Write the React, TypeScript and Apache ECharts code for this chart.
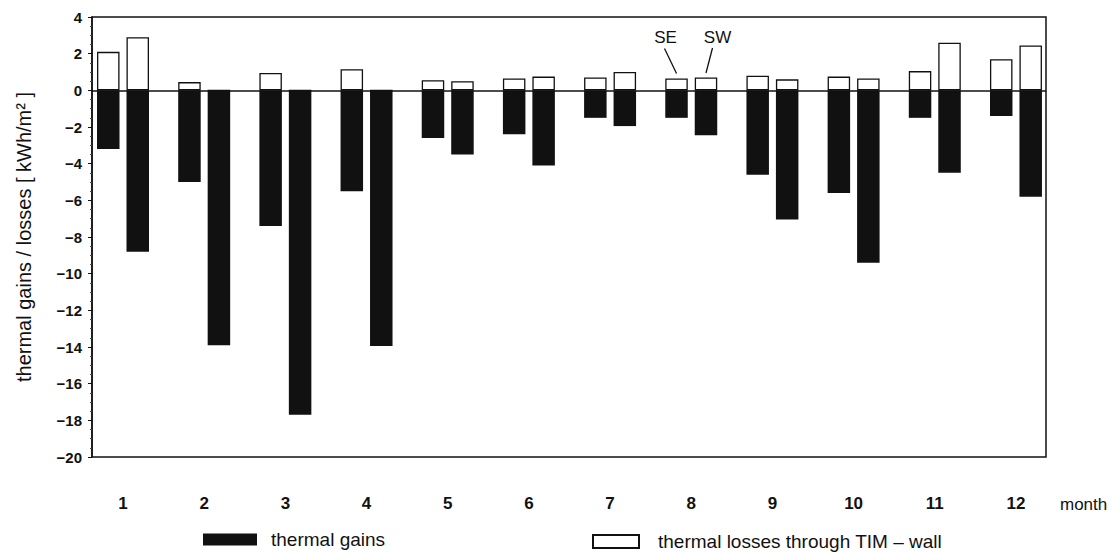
import React, { useEffect, useRef } from 'react';
import * as echarts from 'echarts';

// month numbers (x positions of the bar pairs)
const months = [1, 2, 3, 4, 5, 6, 7, 8, 9, 10, 11, 12];
// SE facade
const seGains = [-3.2, -5.0, -7.4, -5.5, -2.6, -2.4, -1.5, -1.5, -4.6, -5.6, -1.5, -1.4];
const seLosses = [2.1, 0.45, 0.95, 1.15, 0.55, 0.65, 0.7, 0.65, 0.8, 0.75, 1.05, 1.7];
// SW facade
const swGains = [-8.8, -13.9, -17.7, -13.95, -3.5, -4.1, -1.95, -2.45, -7.05, -9.4, -4.5, -5.8];
const swLosses = [2.9, 0, 0, 0, 0.5, 0.75, 1.0, 0.7, 0.6, 0.65, 2.6, 2.45];

const GAINS = 'thermal gains';
const LOSSES = 'thermal losses through TIM – wall';

export default function App() {
  const ref = useRef<HTMLDivElement>(null);

  useEffect(() => {
    document.body.style.margin = '0';
    const chart = echarts.init(ref.current!, null, { renderer: 'svg' });
    const font = "'Liberation Sans', Arial, Helvetica, sans-serif";
    const BAR_W = 22.5;
    const GAP = 0.31;
    const pairs = (arr: number[]) => arr.map((v, i) => [months[i], v]);
    const gainStyle = { color: '#111' };
    const lossStyle = { color: '#fff', borderColor: '#111', borderWidth: 1.3 };
    const zeroLine = {
      silent: true,
      symbol: 'none',
      label: { show: false },
      lineStyle: { color: '#111', width: 1.5, type: 'solid' },
      data: [{ yAxis: 0 }],
    };

    chart.setOption({
      animation: false,
      backgroundColor: '#fff',
      textStyle: { fontFamily: font, color: '#111' },
      grid: {
        left: 92,
        right: 69,
        top: 17,
        bottom: 96,
        show: true,
        borderColor: '#111',
        borderWidth: 1.5,
        backgroundColor: 'transparent',
      },
      xAxis: {
        type: 'value',
        min: 0.618,
        max: 12.37,
        axisLine: { show: false, onZero: false },
        axisTick: { show: false },
        splitLine: { show: false },
        axisLabel: {
          customValues: months,
          formatter: (v: number) => String(Math.round(v)),
          fontSize: 17,
          fontWeight: 'bold',
          color: '#111',
          margin: 38,
          fontFamily: font,
        },
        name: 'month',
        nameLocation: 'end',
        nameGap: 14,
        nameTextStyle: {
          fontSize: 17,
          color: '#111',
          fontFamily: font,
          verticalAlign: 'top',
          align: 'left',
          padding: [39, 0, 0, 0],
        },
      },
      yAxis: {
        type: 'value',
        min: -20,
        max: 4,
        interval: 2,
        axisLine: { show: true, lineStyle: { color: '#111', width: 1.5 } },
        axisTick: { show: true, length: 4, lineStyle: { color: '#111' } },
        minorTick: { show: true, splitNumber: 4, length: 2, lineStyle: { color: '#444' } },
        splitLine: { show: false },
        axisLabel: {
          fontSize: 15,
          fontWeight: 'bold',
          color: '#111',
          margin: 10,
          fontFamily: font,
          formatter: (v: number) => (v < 0 ? '−' + Math.abs(v) : String(v)),
        },
        name: 'thermal gains / losses [ kWh/m² ]',
        nameLocation: 'middle',
        nameGap: 58,
        nameTextStyle: { fontSize: 20, color: '#111', fontFamily: font },
      },
      legend: [
        {
          data: [GAINS],
          left: 203,
          top: 530,
          padding: 0,
          itemWidth: 54,
          itemHeight: 12,
          icon: 'rect',
          selectedMode: false,
          textStyle: {
            fontSize: 19,
            lineHeight: 18,
            color: '#111',
            fontFamily: font,
            padding: [0, 0, 0, 9],
          },
        },
        {
          data: [LOSSES],
          left: 592,
          top: 532,
          padding: 0,
          itemWidth: 46,
          itemHeight: 13,
          icon: 'rect',
          selectedMode: false,
          textStyle: {
            fontSize: 19,
            lineHeight: 18,
            color: '#111',
            fontFamily: font,
            padding: [0, 0, 0, 14],
          },
        },
      ],
      series: [
        {
          name: GAINS,
          type: 'bar',
          stack: 'SE',
          data: pairs(seGains),
          barWidth: BAR_W,
          barGap: GAP * 100 + '%',
          itemStyle: gainStyle,
        },
        {
          name: LOSSES,
          type: 'bar',
          stack: 'SE',
          data: pairs(seLosses),
          barWidth: BAR_W,
          barGap: GAP * 100 + '%',
          itemStyle: lossStyle,
        },
        {
          name: GAINS,
          type: 'bar',
          stack: 'SW',
          data: pairs(swGains),
          barWidth: BAR_W,
          barGap: GAP * 100 + '%',
          itemStyle: gainStyle,
        },
        {
          name: LOSSES,
          type: 'bar',
          stack: 'SW',
          data: pairs(swLosses),
          barWidth: BAR_W,
          barGap: GAP * 100 + '%',
          itemStyle: lossStyle,
          markLine: zeroLine,
        },
      ],
    });

    // SE / SW annotations, placed from the chart's own scales (month 8)
    const idx = 7;
    const xMid = chart.convertToPixel({ gridIndex: 0 }, [months[idx], 0])[0];
    const half = (BAR_W + BAR_W * GAP) / 2;
    const seX = xMid - half;
    const swX = xMid + half;
    const seTop = chart.convertToPixel({ gridIndex: 0 }, [months[idx], seLosses[idx]])[1];
    const swTop = chart.convertToPixel({ gridIndex: 0 }, [months[idx], swLosses[idx]])[1];
    const txt = (text: string, x: number, y: number) => ({
      type: 'text',
      x,
      y,
      style: {
        text,
        fontSize: 17,
        fontFamily: font,
        fill: '#111',
        align: 'center',
        verticalAlign: 'middle',
      },
    });
    chart.setOption({
      graphic: [
        txt('SE', seX - 11, seTop - 41),
        {
          type: 'line',
          shape: { x1: seX - 12, y1: seTop - 30, x2: seX, y2: seTop - 5 },
          style: { stroke: '#111', lineWidth: 1.3 },
        },
        txt('SW', swX + 11.5, swTop - 40),
        {
          type: 'line',
          shape: { x1: swX + 6.5, y1: swTop - 29.5, x2: swX, y2: swTop - 4.5 },
          style: { stroke: '#111', lineWidth: 1.3 },
        },
      ],
    });

    return () => {
      chart.dispose();
    };
  }, []);

  return (
    <div
      ref={ref}
      style={{ position: 'fixed', left: 0, top: 0, width: 1115, height: 553, background: '#fff' }}
    />
  );
}
